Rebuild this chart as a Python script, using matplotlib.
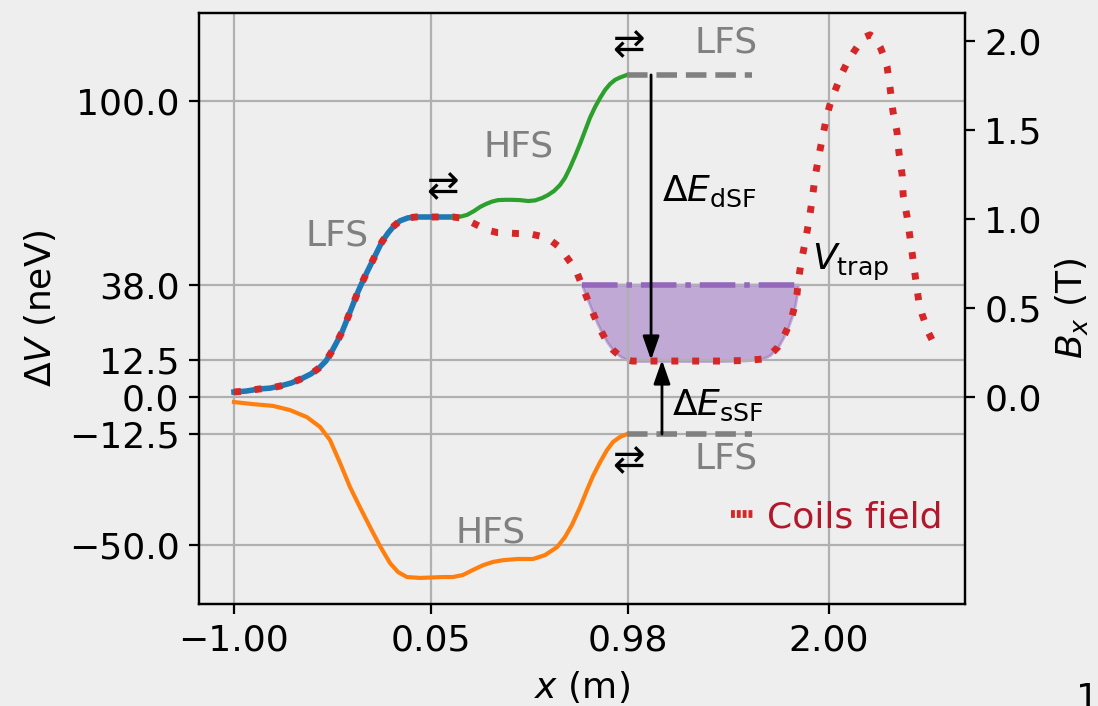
import numpy as np
import matplotlib
matplotlib.use("Agg")
import matplotlib.pyplot as plt
from matplotlib.lines import Line2D

# === data (x in tick units: -1.00 -> 0, 0.05 -> 1, 0.98 -> 2, 2.00 -> 3) ===
x_tick_pos = [0.0, 0.993, 1.987, 3.0]
x_tick_labels = ["\u22121.00", "0.05", "0.98", "2.00"]
y_tick_pos = [-50.0, -12.5, 0.0, 12.5, 38.0, 100.0]
y_tick_labels = ["\u221250.0", "\u221212.5", "0.0", "12.5", "38.0", "100.0"]
b_tick_pos = [0.0, 0.5, 1.0, 1.5, 2.0]

MU = 60.14          # neV per tesla (the two y axes share this ratio)

# LFS branch before the first spin flip (neV), blue
lfs_x = [0.0, 0.061, 0.126, 0.182, 0.232, 0.287, 0.338, 0.388, 0.429, 0.464,
         0.494, 0.519, 0.545, 0.565, 0.585, 0.605, 0.625, 0.645, 0.671, 0.696,
         0.721, 0.746, 0.777, 0.807, 0.837, 0.877, 0.918, 0.988, 1.069, 1.104]
lfs_v = [1.7, 2.0, 2.7, 3.0, 3.7, 4.7, 6.1, 7.8, 9.8, 12.2,
         15.5, 18.6, 22.0, 25.3, 28.7, 32.1, 35.5, 38.5, 42.2, 45.6,
         49.0, 52.4, 55.4, 57.8, 59.5, 60.5, 60.8, 60.8, 60.8, 60.8]

# HFS branch after the first flip (neV), green
hfs_up_x = [1.104, 1.140, 1.175, 1.210, 1.241, 1.271, 1.301, 1.331, 1.367, 1.402,
            1.442, 1.483, 1.518, 1.553, 1.583, 1.614, 1.644, 1.669, 1.694, 1.720,
            1.745, 1.770, 1.795, 1.821, 1.846, 1.871, 1.896, 1.921, 1.946, 1.982]
hfs_up_v = [60.8, 60.9, 61.5, 62.8, 64.2, 65.2, 66.0, 66.5, 66.6, 66.6,
            66.5, 66.2, 66.4, 67.2, 68.2, 69.6, 71.6, 74.0, 77.4, 81.4,
            85.5, 89.9, 94.3, 98.0, 101.0, 103.7, 105.7, 107.1, 107.9, 108.8]

# lower branch (neV), orange
hfs_dn_x = [0.0, 0.096, 0.197, 0.282, 0.368, 0.434, 0.484, 0.535, 0.585, 0.635,
            0.686, 0.736, 0.787, 0.827, 0.872, 0.938, 1.054, 1.104, 1.155, 1.205,
            1.256, 1.306, 1.357, 1.432, 1.508, 1.568, 1.629, 1.669, 1.704, 1.745,
            1.780, 1.810, 1.846, 1.881, 1.911, 1.946, 1.982]
hfs_dn_v = [-1.7, -2.4, -3.0, -4.4, -6.8, -10.1, -14.5, -22.3, -30.4, -37.2,
            -43.9, -50.3, -56.1, -59.1, -60.8, -61.1, -60.8, -60.8, -60.1, -58.4,
            -56.8, -55.7, -55.1, -54.7, -54.7, -53.4, -50.7, -47.3, -43.2, -37.2,
            -31.4, -26.7, -22.0, -17.9, -15.2, -13.5, -12.5]

# final LFS levels (gray dashed)
lfs_end_x = [1.982, 2.612]
lfs_top = 108.8
lfs_bottom = -12.5

# coils field (T, right axis): same as the blue branch up to x = 1.104, then this tail
coil_tail_x = [1.140, 1.175, 1.225, 1.276, 1.326, 1.377, 1.432, 1.493, 1.543, 1.594,
               1.634, 1.669, 1.699, 1.730, 1.750, 1.770, 1.790, 1.810, 1.831, 1.856,
               1.881, 1.911, 1.946, 1.977, 2.007, 2.113, 2.300, 2.451, 2.577, 2.663,
               2.703, 2.743, 2.768, 2.794, 2.814, 2.829, 2.839, 2.844, 2.859, 2.879,
               2.900, 2.915, 2.930, 2.950, 2.970, 2.990, 3.006, 3.026, 3.046, 3.066,
               3.091, 3.122, 3.152, 3.182, 3.207, 3.232, 3.258, 3.278, 3.293, 3.308,
               3.323, 3.343, 3.353, 3.369, 3.374, 3.394, 3.409, 3.424, 3.439, 3.454,
               3.469, 3.485, 3.500, 3.525]
coil_tail_b = [1.006, 0.994, 0.966, 0.938, 0.924, 0.921, 0.918, 0.916, 0.904, 0.882,
               0.848, 0.798, 0.753, 0.697, 0.640, 0.584, 0.528, 0.472, 0.416, 0.360,
               0.309, 0.264, 0.230, 0.211, 0.202, 0.202, 0.202, 0.202, 0.205, 0.213,
               0.236, 0.281, 0.331, 0.393, 0.455, 0.517, 0.579, 0.640, 0.753, 0.865,
               0.994, 1.107, 1.236, 1.360, 1.472, 1.584, 1.646, 1.708, 1.764, 1.820,
               1.876, 1.933, 1.983, 2.022, 2.034, 2.017, 1.966, 1.910, 1.854, 1.736,
               1.601, 1.489, 1.371, 1.247, 1.135, 1.011, 0.893, 0.770, 0.646, 0.528,
               0.466, 0.416, 0.365, 0.309]

V_TRAP = 38.0
BOTTOM = 12.5
arrow_dsf_x = 2.103
arrow_ssf_x = 2.158

BG = "#eeeeee"
plt.rcParams["font.size"] = 13

fig = plt.figure(figsize=(5.49, 3.53), dpi=200, facecolor=BG)
ax = fig.add_axes([0.1812, 0.1445, 0.6977, 0.8371])
ax.set_facecolor(BG)

ax.plot(lfs_x, lfs_v, color="tab:blue", lw=2.0)
ax.plot(hfs_up_x, hfs_up_v, color="tab:green", lw=1.5)
ax.plot(hfs_dn_x, hfs_dn_v, color="tab:orange", lw=1.5)
ax.plot(lfs_end_x, [lfs_top, lfs_top], color="gray", lw=2, ls="--")
ax.plot(lfs_end_x, [lfs_bottom, lfs_bottom], color="gray", lw=2, ls="--")

coil_x = np.array(lfs_x + coil_tail_x)
coil_b = np.array([v / MU for v in lfs_v] + coil_tail_b)

# trap region: coil field converted to potential, below 38 neV
cv = coil_b * MU
in_trap = (coil_x > 1.6) & (coil_x < 3.0) & (cv <= V_TRAP)
ax.fill_between(coil_x, cv, V_TRAP, where=in_trap, interpolate=True,
                color="tab:purple", alpha=0.5)
idx = np.where(in_trap)[0]
i0, i1 = idx[0], idx[-1]
x_left = np.interp(V_TRAP, [cv[i0], cv[i0 - 1]], [coil_x[i0], coil_x[i0 - 1]])
x_right = np.interp(V_TRAP, [cv[i1], cv[i1 + 1]], [coil_x[i1], coil_x[i1 + 1]])
ax.plot([x_left, x_right], [V_TRAP, V_TRAP], color="tab:purple", lw=2, ls="-.")

arrow_kw = dict(arrowstyle="-|>,head_length=0.4,head_width=0.14",
                color="black", lw=1.0, shrinkA=0, shrinkB=0, mutation_scale=18)
ax.annotate("", xy=(arrow_dsf_x, BOTTOM), xytext=(arrow_dsf_x, lfs_top),
            arrowprops=arrow_kw)
ax.annotate("", xy=(arrow_ssf_x, BOTTOM), xytext=(arrow_ssf_x, lfs_bottom),
            arrowprops=arrow_kw)

gray_txt = dict(color="gray", ha="center", va="center", fontsize=13)
ax.text(0.519, 54.7, "LFS", **gray_txt)
ax.text(1.437, 84.5, "HFS", **gray_txt)
ax.text(2.481, 119.6, "LFS", **gray_txt)
ax.text(2.481, -20.6, "LFS", **gray_txt)
ax.text(1.296, -45.6, "HFS", **gray_txt)
for xs, ys in [(1.049, 70.9), (1.987, 118.9), (1.987, -21.6)]:
    ax.text(xs, ys, "\u21c4", ha="center", va="center", fontsize=14)
ax.text(2.160, 66.2, r"$\Delta E_{\rm dSF}$", ha="left", va="baseline")
ax.text(2.210, -6.1, r"$\Delta E_{\rm sSF}$", ha="left", va="baseline")
ax.text(2.915, 42.9, r"$V_{\rm trap}$", ha="left", va="baseline")

ax.set_xlim(-0.1765, 3.686)
ax.set_ylim(-69.9, 129.7)
ax.set_xticks(x_tick_pos, x_tick_labels)
ax.set_yticks(y_tick_pos, y_tick_labels)
ax.grid(True, color="#b0b0b0", lw=0.8)
ax.set_xlabel(r"$x$ (m)")
ax.set_ylabel(r"$\Delta V$ (neV)")

ax2 = ax.twinx()
ax2.plot(coil_x, coil_b, color="tab:red", lw=2.5, ls=(0, (1, 2)))
ax2.set_ylim(-69.9 / MU, 129.7 / MU)
ax2.set_yticks(b_tick_pos, [f"{b:.1f}" for b in b_tick_pos])
ax2.set_ylabel(r"$B_x$ (T)")

handle = Line2D([], [], color="tab:red", lw=2.8, ls=(0, (0.5, 0.25)))
ax2.legend([handle], ["Coils field"], loc="center right",
           bbox_to_anchor=(0.9896, 0.147), frameon=False, borderaxespad=0,
           handlelength=0.6, handletextpad=0.4, labelcolor="#b2182b")

# stray label at the cropped bottom-right corner of the original
fig.text(1088 / 1098, 1 - 682 / 706, "1", ha="center", va="top")

fig.savefig("out.png", dpi=200, facecolor=BG)
